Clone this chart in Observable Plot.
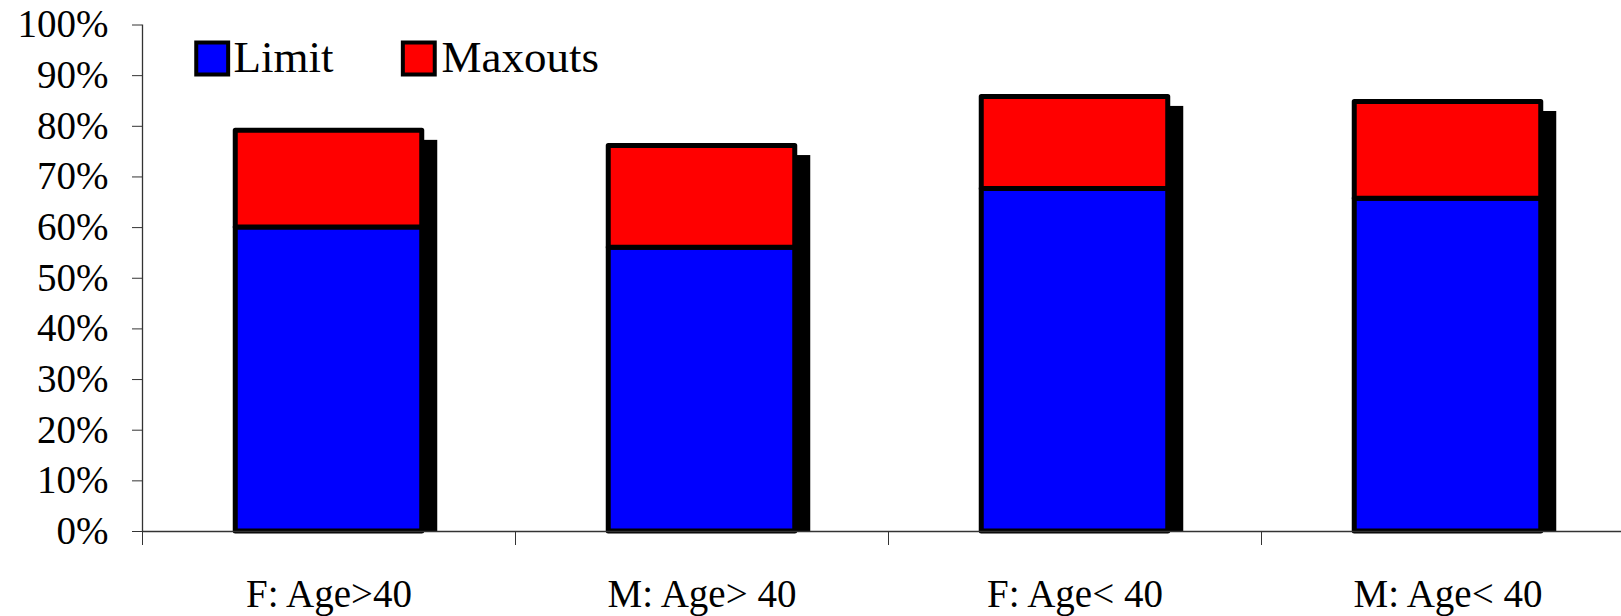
<!DOCTYPE html>
<html>
<head>
<meta charset="utf-8">
<script src="https://cdn.jsdelivr.net/npm/d3@7"></script>
<script src="https://cdn.jsdelivr.net/npm/@observablehq/plot@0.6"></script>
<style>
  html, body { margin: 0; padding: 0; background: #fff; overflow: hidden; }
  svg { overflow: hidden; }
</style>
</head>
<body>
<div id="chart"></div>
<script>
const categories = ["F: Age>40", "M: Age> 40", "F: Age< 40", "M: Age< 40"];
const seriesNames = ["Limit", "Maxouts"];
const seriesColors = ["#0000FF", "#FF0000"];
const limitValues = [60, 56, 67.6, 65.7];
const maxoutValues = [19.1, 20.1, 18.2, 19.1];
const yTicks = [0, 10, 20, 30, 40, 50, 60, 70, 80, 90, 100];

const seriesValues = [limitValues, maxoutValues];
const rows = [];
categories.forEach((c, i) => {
  let base = 0;
  seriesValues.forEach((vals, s) => {
    rows.push({i, cat: c, series: seriesNames[s], y1: base, y2: base + vals[i]});
    base += vals[i];
  });
});
const totals = categories.map((c, i) => ({i, total: limitValues[i] + maxoutValues[i]}));

const font = "'Liberation Serif', 'Times New Roman', serif";

const legendMarks = [];
const legendBoxDx = [69.7, 276.3];
const legendTextDx = [91, 299];
seriesNames.forEach((name, s) => {
  legendMarks.push(Plot.dot([name], {
    frameAnchor: "top-left", dx: legendBoxDx[s], dy: 33.5,
    symbol: "square", r: 18, fill: seriesColors[s], stroke: "black", strokeWidth: 4
  }));
  legendMarks.push(Plot.text([name], {
    frameAnchor: "top-left", dx: legendTextDx[s], dy: 32.8,
    text: d => d, textAnchor: "start", lineAnchor: "middle",
    fontSize: 45, fill: "black", fontFamily: font
  }));
});

const chart = Plot.plot({
  width: 1621,
  height: 616,
  marginLeft: 142,
  marginRight: 0,
  marginTop: 24.5,
  marginBottom: 85,
  style: {fontFamily: font, background: "white", color: "black"},
  x: {domain: [0, 4], range: [142, 1634]},
  y: {domain: [0, 100]},
  marks: [
    // shadows
    Plot.rect(totals, {
      x1: d => d.i + 0.25, x2: d => d.i + 0.75, y1: 0, y2: d => d.total,
      dx: 15.5, insetTop: 9.5, fill: "black"
    }),
    // stacked bars
    Plot.rect(rows, {
      x1: d => d.i + 0.25, x2: d => d.i + 0.75, y1: "y1", y2: "y2",
      fill: d => seriesColors[seriesNames.indexOf(d.series)],
      stroke: "black", strokeWidth: 5, strokeLinejoin: "round"
    }),
    Plot.ruleY([0], {stroke: "#333", strokeWidth: 1.3}),
    Plot.ruleX([0], {stroke: "#333", strokeWidth: 1.3}),
    Plot.axisY({
      ticks: yTicks, tickFormat: d => d + "%", tickSize: 10, tickPadding: 24,
      fontSize: 39, label: null, stroke: "#333", fill: "black"
    }),
    Plot.axisX({
      ticks: [0, 1, 2, 3], tickFormat: () => "", tickSize: 14,
      label: null, stroke: "#333"
    }),
    Plot.axisX({
      ticks: categories.map((c, i) => i + 0.5),
      tickFormat: v => categories[Math.floor(v)],
      tickSize: 0, tickPadding: 48, fontSize: 39, label: null, fill: "black"
    }),
    ...legendMarks
  ]
});
document.getElementById("chart").appendChild(chart);
</script>
</body>
</html>
